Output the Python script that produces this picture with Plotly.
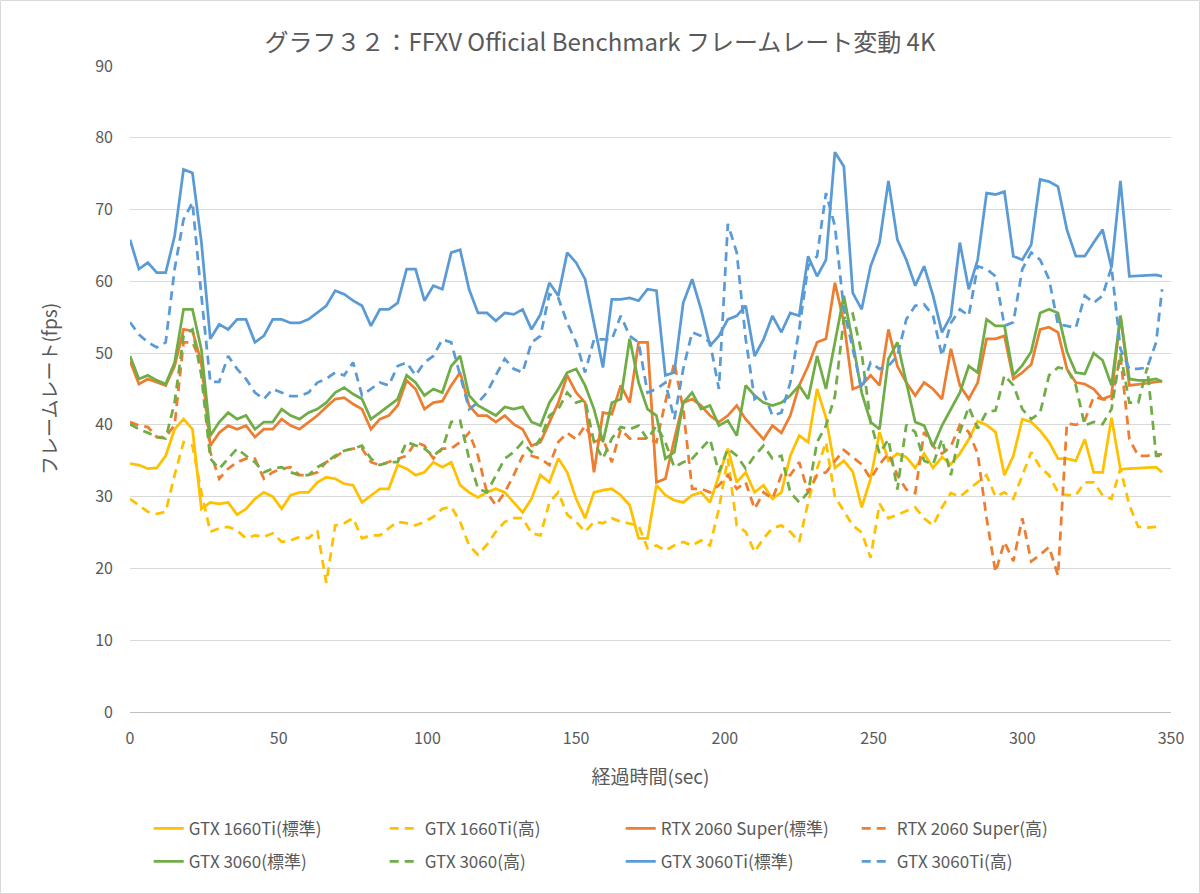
import plotly.graph_objects as go

# 経過時間(sec)
time_sec = list(range(0, 346, 3)) + [347]

fps_1660ti_std = [
    34.6, 34.4, 33.9, 34.0, 35.7, 39.4, 40.8, 39.4, 28.3, 29.2, 29.0, 29.2, 27.5, 28.3, 29.7, 30.6, 30.0, 28.3, 30.2, 30.6,
    30.6, 32.0, 32.7, 32.5, 31.8, 31.6, 29.2, 30.2, 31.1, 31.1, 34.4, 33.9, 33.0, 33.4, 34.8, 34.1, 34.8, 31.6, 30.6, 29.9,
    30.6, 31.1, 30.6, 29.2, 27.8, 29.7, 33.0, 32.0, 35.3, 33.4, 29.7, 27.0, 30.6, 30.9, 31.1, 30.2, 28.8, 24.2, 24.2,
    31.6, 30.2, 29.5, 29.2, 30.2, 30.6, 29.2, 33.0, 36.7, 32.0, 33.4, 30.6, 31.6, 29.7, 30.6, 35.7, 38.5, 37.6, 45.0, 41.0,
    34.0, 35.0, 33.5, 28.5, 32.5, 39.0, 35.0, 36.0, 35.5, 34.0, 36.0, 34.0, 35.5, 34.5, 36.0, 38.0, 40.5, 40.0, 39.0,
    33.0, 35.7, 40.8, 40.4, 39.2, 37.6, 35.3, 35.3, 35.0, 38.0, 33.4, 33.4, 41.0, 33.8, 33.9, 34.0, 34.1, 34.1, 33.4,
]
fps_1660ti_high = [
    29.7, 28.8, 27.9, 27.6, 27.9, 33.0, 37.6, 37.1, 30.6, 25.1, 25.6, 25.8, 25.3, 24.2, 24.6, 24.4, 24.9, 23.7, 23.9, 24.4,
    24.2, 25.3, 18.0, 26.0, 26.3, 27.0, 24.2, 24.6, 24.6, 25.6, 26.5, 26.3, 26.0, 26.5, 27.2, 28.3, 28.6, 26.5, 23.2, 21.9,
    23.3, 25.1, 26.5, 27.0, 27.0, 24.9, 24.6, 29.2, 30.6, 27.5, 26.5, 25.1, 26.5, 26.3, 27.0, 26.5, 26.3, 26.0, 22.8,
    23.2, 22.5, 23.2, 23.7, 23.2, 23.9, 23.2, 28.3, 35.3, 26.0, 25.1, 22.3, 24.2, 25.6, 26.0, 25.1, 23.7, 29.2, 33.9, 37.6,
    30.0, 28.0, 26.0, 25.0, 21.5, 29.0, 27.0, 27.5, 28.0, 28.5, 27.0, 26.0, 28.5, 30.5, 30.0, 31.0, 32.0, 33.0, 30.0,
    30.6, 29.7, 33.0, 36.2, 34.1, 33.0, 30.6, 30.2, 30.2, 32.0, 32.0, 30.2, 29.7, 33.9, 28.8, 25.8, 25.7, 25.8, 25.6,
]
fps_2060s_std = [
    48.9, 45.7, 46.4, 45.9, 45.5, 48.2, 53.3, 53.1, 48.7, 37.1, 38.9, 39.9, 39.4, 39.9, 38.3, 39.4, 39.4, 40.8, 39.9, 39.4,
    40.4, 41.3, 42.5, 43.6, 43.8, 42.9, 42.2, 39.4, 40.8, 41.3, 42.7, 46.2, 45.0, 42.2, 43.1, 43.3, 45.5, 47.3, 42.7, 41.3,
    41.3, 40.4, 41.3, 40.1, 39.4, 37.1, 37.6, 40.4, 43.1, 46.9, 44.5, 43.1, 33.4, 41.7, 41.5, 45.5, 43.1, 51.5, 51.5,
    32.0, 32.5, 38.0, 43.1, 43.6, 42.7, 41.3, 40.4, 41.3, 42.7, 40.8, 39.4, 38.0, 39.9, 38.9, 41.3, 45.5, 48.2, 51.5, 52.0,
    59.8, 54.3, 45.0, 45.5, 46.9, 45.5, 53.3, 48.2, 45.9, 44.1, 45.9, 45.0, 43.6, 50.6, 45.5, 43.6, 45.9, 52.0, 52.0,
    52.4, 46.4, 47.3, 48.4, 53.3, 53.6, 52.9, 47.8, 45.9, 45.7, 45.0, 43.6, 44.1, 55.2, 45.5, 45.6, 45.8, 46.0, 46.1,
]
fps_2060s_high = [
    40.4, 39.9, 39.7, 38.3, 38.3, 40.0, 51.5, 51.5, 48.7, 36.2, 32.5, 33.9, 34.8, 35.3, 35.3, 32.5, 33.4, 33.9, 34.1, 33.0,
    33.0, 33.4, 34.8, 35.5, 36.4, 36.7, 36.7, 34.8, 34.4, 34.8, 35.3, 35.7, 37.6, 37.1, 35.3, 36.7, 36.7, 37.6, 38.9, 35.7,
    30.6, 28.8, 30.6, 33.0, 35.7, 35.7, 35.3, 34.4, 37.6, 38.9, 38.0, 39.9, 37.6, 38.1, 34.8, 39.4, 38.1, 38.1, 38.1,
    37.6, 43.1, 48.7, 42.2, 31.1, 31.1, 30.6, 31.6, 33.0, 31.1, 32.0, 28.3, 30.6, 29.7, 33.0, 33.0, 34.8, 30.6, 33.0, 33.4,
    35.0, 36.5, 35.5, 34.5, 32.5, 34.5, 36.0, 33.0, 31.0, 30.5, 39.0, 37.0, 36.0, 37.0, 40.0, 39.0, 36.0, 27.0, 19.5,
    23.7, 21.0, 27.0, 21.0, 21.9, 23.0, 19.0, 40.2, 40.0, 40.6, 43.9, 43.6, 43.4, 49.6, 38.0, 35.7, 35.7, 35.9, 35.9,
]
fps_3060_std = [
    49.6, 46.4, 46.9, 46.2, 45.7, 48.7, 56.1, 56.1, 50.5, 38.5, 40.4, 41.7, 40.8, 41.3, 39.4, 40.4, 40.4, 42.2, 41.3, 40.8,
    41.7, 42.2, 43.1, 44.5, 45.2, 44.3, 43.6, 40.8, 41.7, 42.7, 43.6, 46.9, 45.9, 44.1, 45.0, 44.5, 48.2, 49.6, 44.1, 42.7,
    42.0, 41.3, 42.5, 42.2, 42.5, 40.4, 39.9, 43.1, 45.0, 47.3, 47.8, 45.5, 42.2, 37.6, 43.1, 43.6, 52.0, 45.9, 42.2,
    41.3, 35.3, 36.2, 43.1, 44.5, 42.2, 42.7, 39.9, 40.6, 38.5, 45.5, 44.1, 43.1, 42.7, 43.1, 44.1, 45.5, 43.6, 49.6, 45.0,
    51.5, 58.0, 51.5, 44.5, 40.4, 39.4, 49.2, 51.5, 45.9, 40.4, 39.9, 37.0, 39.9, 42.2, 44.5, 48.2, 47.3, 54.7, 53.8,
    53.8, 46.9, 48.3, 50.2, 55.6, 56.1, 55.6, 50.2, 47.3, 47.1, 50.0, 49.0, 45.5, 55.2, 46.4, 46.2, 46.2, 46.4, 46.0,
]
fps_3060_high = [
    40.1, 39.4, 38.9, 38.3, 38.1, 43.1, 52.4, 53.3, 46.9, 35.3, 33.9, 35.3, 36.7, 35.7, 34.8, 33.4, 33.9, 34.1, 33.4, 33.0,
    33.0, 34.1, 34.8, 35.7, 36.4, 36.7, 37.1, 35.3, 34.4, 34.8, 34.8, 37.6, 37.1, 36.7, 35.7, 36.7, 40.4, 40.6, 35.3, 31.1,
    30.6, 33.0, 35.3, 36.2, 37.6, 36.2, 38.1, 41.3, 42.2, 44.5, 43.1, 43.5, 37.6, 35.3, 38.1, 39.7, 39.4, 39.9, 38.0,
    39.9, 37.6, 34.1, 34.8, 35.3, 36.7, 38.0, 33.4, 36.7, 35.7, 33.9, 35.7, 37.1, 35.3, 35.7, 30.6, 29.2, 30.6, 37.6, 39.9,
    44.0, 54.8, 55.5, 50.0, 40.4, 36.0, 38.0, 31.0, 40.0, 39.0, 35.0, 34.5, 38.0, 33.0, 39.0, 42.5, 39.5, 41.8, 42.0,
    46.9, 45.5, 42.2, 40.8, 41.7, 46.9, 48.0, 47.8, 45.5, 39.9, 40.4, 40.1, 42.2, 50.0, 43.1, 43.1, 48.0, 35.7, 35.7,
]
fps_3060ti_std = [
    65.8, 61.7, 62.6, 61.2, 61.2, 66.3, 75.6, 75.1, 65.5, 52.0, 54.0, 53.3, 54.7, 54.7, 51.5, 52.4, 54.7, 54.7, 54.2, 54.2,
    54.7, 55.6, 56.6, 58.7, 58.2, 57.3, 56.6, 53.8, 56.1, 56.1, 57.0, 61.7, 61.7, 57.3, 59.4, 58.9, 64.0, 64.4, 58.9, 55.6,
    55.6, 54.5, 55.6, 55.4, 56.1, 53.3, 55.4, 59.8, 58.0, 64.0, 62.6, 60.3, 54.0, 48.0, 57.5, 57.5, 57.7, 57.3, 58.9,
    58.7, 46.9, 47.3, 57.0, 60.3, 56.1, 51.0, 52.4, 54.7, 55.2, 56.6, 49.6, 51.9, 55.2, 52.9, 55.6, 55.2, 63.5, 60.7, 63.0,
    78.0, 76.0, 58.4, 56.1, 62.1, 65.4, 74.0, 65.8, 63.0, 59.4, 62.1, 58.0, 52.9, 55.2, 65.4, 58.9, 63.0, 72.3, 72.1,
    72.5, 63.5, 63.0, 65.1, 74.2, 73.9, 73.2, 67.2, 63.5, 63.5, 65.4, 67.2, 61.9, 74.0, 60.7, 60.8, 60.8, 60.9, 60.7,
]
fps_3060ti_high = [
    54.3, 52.6, 51.5, 50.8, 51.5, 61.7, 68.6, 71.0, 58.0, 46.0, 46.0, 49.6, 47.8, 46.4, 44.5, 43.6, 45.0, 44.5, 44.0, 44.0,
    44.5, 45.9, 46.4, 47.3, 46.9, 48.7, 44.1, 45.0, 45.9, 45.5, 48.2, 48.7, 46.9, 48.7, 49.6, 51.9, 51.5, 46.9, 42.2, 43.1,
    44.5, 46.9, 49.2, 47.8, 47.3, 51.5, 52.4, 58.2, 57.7, 54.2, 51.5, 47.3, 51.9, 51.9, 51.9, 55.2, 52.4, 51.5, 44.5,
    45.0, 45.9, 40.8, 47.8, 52.9, 52.4, 51.5, 45.0, 68.0, 64.0, 52.0, 43.6, 44.5, 41.3, 41.7, 45.9, 53.3, 62.1, 63.5, 72.3,
    67.7, 56.1, 50.6, 45.0, 48.7, 47.8, 48.2, 49.6, 54.7, 56.6, 56.8, 55.2, 49.6, 54.2, 56.1, 55.2, 62.1, 61.7, 60.7,
    53.8, 54.3, 61.7, 64.0, 63.0, 60.3, 54.0, 53.8, 53.5, 58.0, 57.0, 58.0, 62.0, 50.6, 47.8, 47.8, 48.0, 51.5, 58.9,
]

series = [
    ("GTX 1660Ti(標準)", fps_1660ti_std, "#FFC000", "solid", "legend"),
    ("GTX 1660Ti(高)", fps_1660ti_high, "#FFC000", "9px,6px", "legend"),
    ("RTX 2060 Super(標準)", fps_2060s_std, "#ED7D31", "solid", "legend"),
    ("RTX 2060 Super(高)", fps_2060s_high, "#ED7D31", "9px,6px", "legend"),
    ("GTX 3060(標準)", fps_3060_std, "#70AD47", "solid", "legend2"),
    ("GTX 3060(高)", fps_3060_high, "#70AD47", "9px,6px", "legend2"),
    ("GTX 3060Ti(標準)", fps_3060ti_std, "#5B9BD5", "solid", "legend2"),
    ("GTX 3060Ti(高)", fps_3060ti_high, "#5B9BD5", "9px,6px", "legend2"),
]

font = "Noto Sans CJK JP, Noto Sans, sans-serif"
grey = "#595959"

fig = go.Figure()
for name, vals, color, dash, leg in series:
    fig.add_trace(go.Scatter(x=time_sec, y=vals, name=name, mode="lines", legend=leg,
                             line=dict(color=color, width=2.75, dash=dash)))

legend_style = dict(orientation="h", x=0.018, xanchor="left", yanchor="top",
                    entrywidth=191, entrywidthmode="pixels",
                    font=dict(size=17, color=grey, family=font),
                    bgcolor="rgba(0,0,0,0)")

fig.update_layout(
    width=1200, height=894,
    paper_bgcolor="white", plot_bgcolor="white",
    margin=dict(l=130, r=29, t=66, b=182),
    font=dict(family=font, color=grey, size=16),
    title=dict(text="グラフ３２：FFXV Official Benchmark フレームレート変動 4K",
               x=0.5, xref="container", xanchor="center", y=0.962, yref="container",
               font=dict(size=24, color=grey, family=font)),
    legend=dict(y=-0.153, **legend_style),
    legend2=dict(y=-0.204, **legend_style),
    showlegend=True,
)
fig.update_xaxes(range=[0, 350], dtick=50, tick0=0, showgrid=False, zeroline=False,
                 showline=True, linecolor="#bfbfbf", linewidth=1, ticks="",
                 ticklabelstandoff=12,
                 title=dict(text="経過時間(sec)", font=dict(size=19, color=grey), standoff=22),
                 tickfont=dict(size=16, color=grey))
fig.update_yaxes(range=[0, 90], dtick=10, tick0=0, showgrid=True, gridcolor="#d9d9d9",
                 gridwidth=1, zeroline=False, showline=False, ticks="",
                 ticklabelstandoff=16,
                 title=dict(text="フレームレート(fps)", font=dict(size=19, color=grey), standoff=32),
                 tickfont=dict(size=16, color=grey))

# 外枠
fig.add_shape(type="rect", xref="paper", yref="paper",
              x0=-0.1244, x1=1.0274, y0=-0.281, y1=1.1014,
              line=dict(color="#d9d9d9", width=1), fillcolor="rgba(0,0,0,0)", layer="below")

fig.write_html("out.html", config={"displayModeBar": False},
               post_script="document.body.style.margin='0';")
